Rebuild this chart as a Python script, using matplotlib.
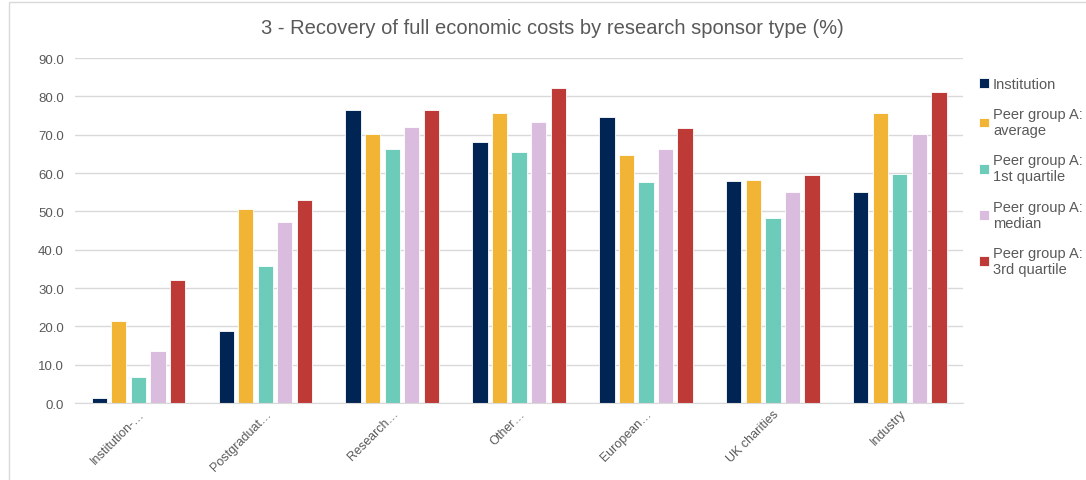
import matplotlib.pyplot as plt
import numpy as np
from matplotlib.patches import Rectangle

plt.rcParams['font.family'] = ['Liberation Sans', 'DejaVu Sans']

categories = ["Institution-\u2026", "Postgraduat\u2026", "Research\u2026", "Other\u2026",
              "European\u2026", "UK charities", "Industry"]
series_names = ["Institution", "Peer group A:\naverage", "Peer group A:\n1st quartile",
                "Peer group A:\nmedian", "Peer group A:\n3rd quartile"]
institution = [1.3, 18.7, 76.4, 68.1, 74.7, 57.9, 55.0]
avg = [21.3, 50.7, 70.3, 75.8, 64.8, 58.3, 75.6]
q1 = [6.7, 35.8, 66.3, 65.5, 57.8, 48.2, 59.9]
median = [13.5, 47.2, 72.1, 73.4, 66.3, 55.0, 70.1]
q3 = [32.1, 53.0, 76.6, 82.3, 71.7, 59.5, 81.2]
colors = ["#002453", "#F1B434", "#6DCBBA", "#DABCDE", "#BE3A36"]

fig = plt.figure(figsize=(10.86, 4.81), dpi=100)
ax = fig.add_axes([0.069, 0.160, 0.818, 0.717])

x = np.arange(len(categories))
pitch = 0.154
width = 0.12
for i, vals in enumerate([institution, avg, q1, median, q3]):
    ax.bar(x + (i - 2) * pitch, vals, width, color=colors[i], label=series_names[i],
           edgecolor='white', linewidth=0.6, zorder=3)

ax.set_ylim(0, 90)
ax.set_xlim(-0.5, len(categories) - 0.5)
ax.set_yticks(np.arange(0, 91, 10))
ax.set_yticklabels([f"{v:.1f}" for v in np.arange(0, 91, 10)])
ax.yaxis.grid(True, color='#d9d9d9', linewidth=1, zorder=0)
ax.set_xticks(x)
ax.set_xticklabels(categories, rotation=45, ha='right', rotation_mode='anchor')
ax.tick_params(axis='x', length=0, labelsize=9, colors='#595959', pad=3)
ax.tick_params(axis='y', length=0, labelsize=9.5, colors='#595959', pad=8)
for s in ['top', 'right', 'left']:
    ax.spines[s].set_visible(False)
ax.spines['bottom'].set_color('#d9d9d9')
ax.spines['bottom'].set_zorder(4)

fig.text(0.509, 0.94, "3 - Recovery of full economic costs by research sponsor type (%)",
         ha='center', va='center', fontsize=14.5, color='#595959')

leg = ax.legend(loc='upper left', bbox_to_anchor=(0.895, 0.853), bbox_transform=fig.transFigure,
                frameon=False, fontsize=10.5, handlelength=0.65, handleheight=0.65,
                handletextpad=0.3, labelspacing=1.1, borderpad=0)
for t in leg.get_texts():
    t.set_color('#595959')

fig.patches.append(Rectangle((0.008, -0.01), 1.0, 1.004, transform=fig.transFigure,
                             fill=False, edgecolor='#d9d9d9', linewidth=1))

fig.savefig("out.png", dpi=100)
